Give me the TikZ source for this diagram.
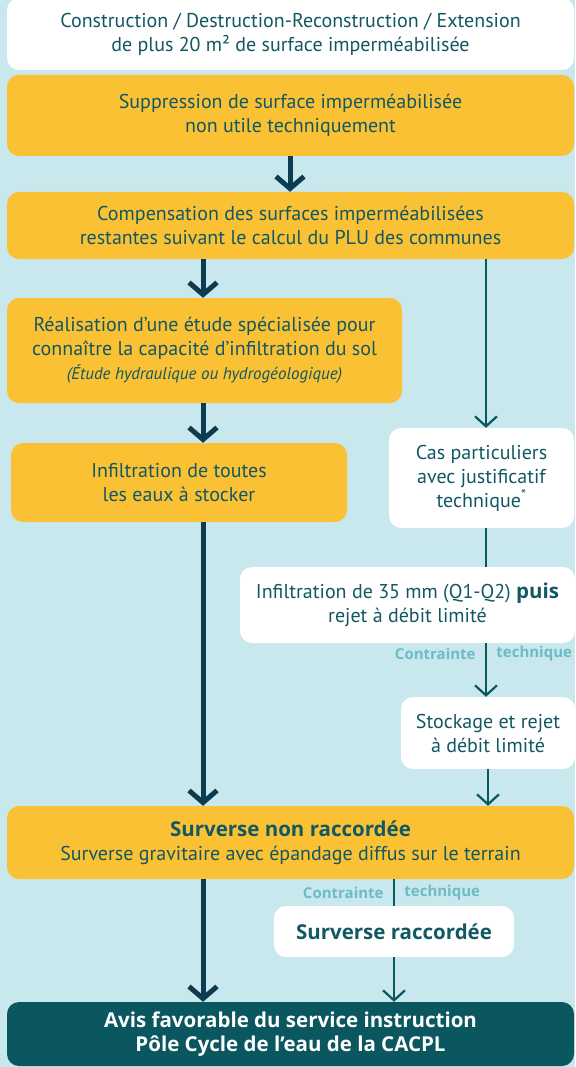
\documentclass[tikz,border=0pt]{standalone}
\usepackage{fontspec}
\setmainfont{PT Sans}
\newfontfamily\boldsans{Open Sans}
\usetikzlibrary{arrows.meta,calc,positioning}
\definecolor{fond}{HTML}{C8E8EE}
\definecolor{jaune}{HTML}{FBC134}
\definecolor{texte}{HTML}{125863}
\definecolor{marine}{HTML}{0D3C50}
\definecolor{canard}{HTML}{0B5760}
\definecolor{clair}{HTML}{6CBCC6}
\tikzset{
    block/.style = {rectangle, rounded corners=12pt, align=center, text=texte,
        font=\fontsize{20}{24}\selectfont, inner sep=0pt},
    yblock/.style = {block, fill=jaune},
    wblock/.style = {block, fill=white},
    dblock/.style = {block, fill=canard, text=white,
        font=\boldsans\bfseries\fontsize{20.5}{24}\selectfont},
    bigarrow/.style = {draw=marine, line width=5pt, -{Straight Barb[length=12pt,width=28pt]}},
    smallarrow/.style = {draw=canard, line width=2.2pt, -{Straight Barb[length=10pt,width=22pt]}},
    smallline/.style = {draw=canard, line width=2.2pt},
    lbl/.style = {font=\boldsans\bfseries\fontsize{15}{17}\selectfont, text=clair}
}
\newcommand{\gras}[1]{{\boldsans\bfseries\fontsize{20.5}{24}\selectfont #1}}
\begin{document}
\begin{tikzpicture}[x=1pt, y=-1pt]
    \useasboundingbox (0,0) rectangle (575,1067);
    \fill[fond] (0,0) rectangle (575,1067);
    % colonnes des fleches
    \coordinate (colL) at (203,0);
    \coordinate (colM) at (290,0);
    \coordinate (colR) at (486,0);
    % blocs
    \node [wblock, minimum width=567pt, minimum height=72pt] (constr) at (290.5,34)
        {Construction / Destruction-Reconstruction / Extension\\de plus 20 m² de surface imperméabilisée};
    \node [yblock, minimum width=567pt, minimum height=81pt] (suppr) at (290.5,115.5)
        {Suppression de surface imperméabilisée\\non utile techniquement};
    \node [yblock, minimum width=567pt, minimum height=67pt] (comp) at (290.5,225.5)
        {Compensation des surfaces imperméabilisées\\restantes suivant le calcul du PLU des communes};
    \node [yblock, minimum width=395pt, minimum height=105pt] (etude) at (204.5,350.5)
        {Réalisation d’une étude spécialisée pour\\connaître la capacité d’infiltration du sol\\
        {\itshape\fontsize{17}{22}\selectfont (Étude hydraulique ou hydrogéologique)}};
    \node [yblock, minimum width=336pt, minimum height=79pt] (infil) at (179,482.5)
        {Infiltration de toutes\\les eaux à stocker};
    \node [wblock, minimum width=185pt, minimum height=100pt] (cas) at (481.5,478)
        {Cas particuliers\\avec justificatif\\technique\textsuperscript{*}};
    \node [wblock, minimum width=335pt, minimum height=76pt] (debit) at (407.5,605)
        {Infiltration de 35 mm (Q1-Q2) \gras{puis}\\rejet à débit limité};
    \node [wblock, minimum width=174pt, minimum height=72pt] (stock) at (488,733)
        {Stockage et rejet\\à débit limité};
    \node [yblock, minimum width=567pt, minimum height=73pt] (nonracc) at (290.5,842.5)
        {\gras{Surverse non raccordée}\\Surverse gravitaire avec épandage diffus sur le terrain};
    \node [wblock, minimum width=240pt, minimum height=51pt] (racc) at (394,931.5)
        {\gras{Surverse raccordée}};
    \node [dblock, minimum width=567pt, minimum height=64pt] (avis) at (290.5,1034)
        {Avis favorable du service instruction\\Pôle Cycle de l’eau de la CACPL};
    % fleches principales
    \draw [bigarrow] (suppr.south -| colM) -- (comp.north -| colM);
    \draw [bigarrow] (comp.south -| colL) -- (etude.north -| colL);
    \draw [bigarrow] (etude.south -| colL) -- (infil.north -| colL);
    \draw [bigarrow] (infil.south -| colL) -- (nonracc.north -| colL);
    \draw [bigarrow] (nonracc.south -| colL) -- (avis.north -| colL);
    % branche de droite
    \draw [smallarrow] (comp.south -| colR) -- (cas.north -| colR);
    \draw [smallline] (cas.south -| colR) -- (debit.north -| colR);
    \draw [smallarrow] (debit.south -| colR) --
        node [pos=.2, lbl, left=6pt] {Contrainte}
        node [pos=.2, lbl, right=6pt] {technique} (stock.north -| colR);
    \draw [smallarrow] (stock.south) -- (stock.south |- nonracc.north);
    \draw [smallline] (racc.north |- nonracc.south) --
        node [lbl, left=6pt] {Contrainte}
        node [lbl, right=6pt] {technique} (racc.north);
    \draw [smallarrow] (racc.south) -- (racc.south |- avis.north);
\end{tikzpicture}
\end{document}
